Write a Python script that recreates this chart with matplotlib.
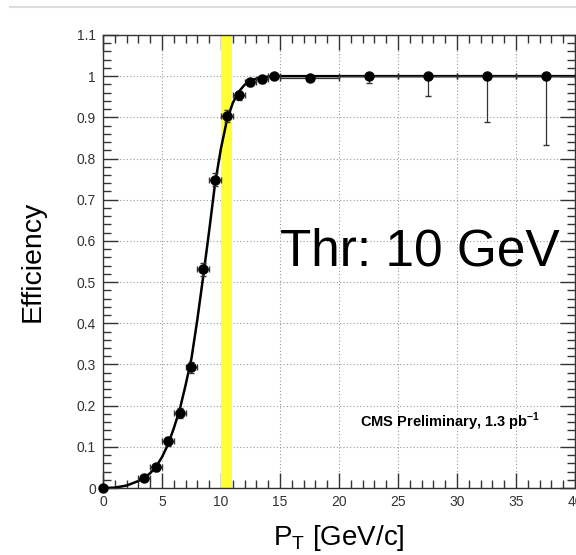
import numpy as np
import matplotlib
matplotlib.use('Agg')
import matplotlib.pyplot as plt
from matplotlib.ticker import MultipleLocator

plt.rcParams['font.family'] = ['Liberation Sans', 'DejaVu Sans']

# measured efficiency points (bin centre, efficiency, half bin width, errors)
pt = [0.0, 3.5, 4.5, 5.5, 6.5, 7.5, 8.5, 9.5, 10.5, 11.5, 12.5, 13.5, 14.5,
      17.5, 22.5, 27.5, 32.5, 37.5]
eff = [0.0, 0.024, 0.05, 0.113, 0.183, 0.293, 0.531, 0.749, 0.904, 0.954,
       0.986, 0.992, 1.0, 0.995, 1.0, 1.0, 1.0, 1.0]
pt_err = [0.0, 0.5, 0.5, 0.5, 0.5, 0.5, 0.5, 0.5, 0.5, 0.5, 0.5, 0.5, 0.5,
          2.5, 2.5, 2.5, 2.5, 2.5]
eff_err_lo = [0.0, 0.006, 0.008, 0.01, 0.012, 0.014, 0.016, 0.016, 0.015,
              0.013, 0.009, 0.009, 0.003, 0.004, 0.017, 0.047, 0.112, 0.166]
eff_err_hi = [0.0, 0.006, 0.008, 0.01, 0.012, 0.014, 0.016, 0.016, 0.015,
              0.011, 0.008, 0.006, 0.0, 0.004, 0.0, 0.0, 0.0, 0.0]

# fitted turn-on curve
fit_pt = [0, 1, 2, 3, 3.5, 4, 4.5, 5, 5.5, 6, 6.5, 7, 7.5, 8, 8.5, 9, 9.5,
          10, 10.5, 11, 11.5, 12, 12.5, 13, 13.5, 14, 15, 40]
fit_eff = [0.0, 0.001, 0.006, 0.017, 0.025, 0.036, 0.052, 0.075, 0.105,
           0.145, 0.19, 0.25, 0.315, 0.41, 0.515, 0.625, 0.74, 0.825, 0.893,
           0.935, 0.962, 0.979, 0.988, 0.994, 0.997, 0.999, 1.0, 1.0]

thr_lo, thr_hi = 10.0, 10.9

fig = plt.figure(figsize=(5.76, 5.55), dpi=100)
ax = fig.add_axes([0.1788, 0.1207, 0.8195, 0.8163])

# slide separator line at the top
fig.add_artist(plt.Line2D([0.017, 1.0], [0.987, 0.987], color='#dddddd', lw=1.5))

ax.axvspan(thr_lo, thr_hi, color='#ffff33', zorder=1.5, lw=0)

ax.plot(fit_pt, fit_eff, color='black', lw=1.8, zorder=3)
ax.errorbar(pt, eff, xerr=pt_err, yerr=[eff_err_lo, eff_err_hi], fmt='o',
            color='black', ecolor='#333333', elinewidth=0.9, capsize=2.5,
            markersize=6.5, zorder=4, clip_on=False)

ax.set_xlim(0, 40)
ax.set_ylim(0, 1.1)
ax.xaxis.set_major_locator(MultipleLocator(5))
ax.xaxis.set_minor_locator(MultipleLocator(1))
ax.yaxis.set_major_locator(MultipleLocator(0.1))
ax.yaxis.set_minor_locator(MultipleLocator(0.02))
ax.set_xticks([0, 5, 10, 15, 20, 25, 30, 35, 40])
ax.set_xticklabels(['0', '5', '10', '15', '20', '25', '30', '35', '40'])
ax.set_yticks([0, 0.1, 0.2, 0.3, 0.4, 0.5, 0.6, 0.7, 0.8, 0.9, 1.0, 1.1])
ax.set_yticklabels(['0', '0.1', '0.2', '0.3', '0.4', '0.5', '0.6', '0.7',
                    '0.8', '0.9', '1', '1.1'])
ax.tick_params(which='both', direction='in', top=True, right=True,
               labelsize=10, labelcolor='#333333', color='#333333')
ax.tick_params(which='major', length=11, width=1, pad=5)
ax.tick_params(which='minor', length=6, width=1)
for s in ax.spines.values():
    s.set_color('#333333')
    s.set_linewidth(1)
ax.grid(True, which='major', linestyle=(0, (1, 2)), color='#999999', lw=0.8)
ax.set_axisbelow(True)

ax.set_ylabel('Efficiency', fontsize=20.5, labelpad=22)
ax.set_xlabel('P$_\\mathregular{T}$ [GeV/c]', fontsize=20, labelpad=10)

ax.text(0.375, 0.52, 'Thr: 10 GeV', transform=ax.transAxes, fontsize=37,
        ha='left', va='center', zorder=5)
ax.text(0.545, 0.145, 'CMS Preliminary, 1.3 pb$^\\mathregular{-1}$',
        transform=ax.transAxes, fontsize=10.5, fontweight='bold',
        ha='left', va='center', zorder=5)

fig.savefig('out.png', dpi=100)
